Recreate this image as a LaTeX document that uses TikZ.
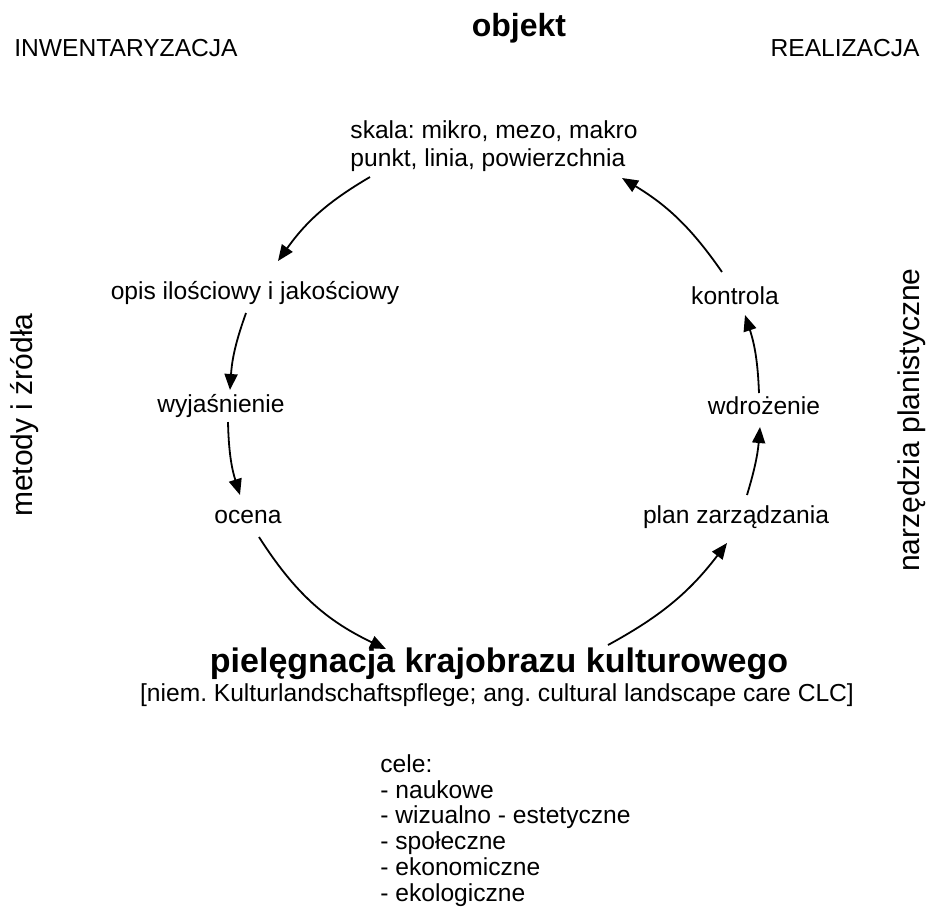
\documentclass[tikz,border=0pt]{standalone}
\usepackage{fontspec}
\setmainfont{Liberation Sans}
\frenchspacing
\usetikzlibrary{arrows.meta}
\usetikzlibrary{calc}

\tikzset{
	txt/.style={font=\fontsize{12.3}{14}\selectfont, inner sep=0pt},
	side/.style={font=\fontsize{15}{17}\selectfont, inner sep=0pt, rotate=90},
	title/.style={font=\fontsize{16}{19}\selectfont\bfseries, inner sep=0pt},
	arr/.style={-{Triangle[length=8pt, width=6.5pt]}, line width=0.9pt}
}

\begin{document}
\begin{tikzpicture}[x=0.5pt, y=-0.5pt]
\useasboundingbox (0, 0) rectangle (932, 918);

\node[title] (objekt) at (519, 28) {objekt};
\node[txt, anchor=west] (inw) at (14, 48) {INWENTARYZACJA};
\node[txt, anchor=east] (real) at (920, 48) {REALIZACJA};

\node[txt, align=left] (skala) at (494, 146) {skala: mikro, mezo, makro\\punkt, linia, powierzchnia};
\node[txt] (opis) at (255, 293) {opis ilościowy i jakościowy};
\node[txt] (wyj) at (221, 406) {wyjaśnienie};
\node[txt] (ocena) at (248, 517) {ocena};
\node[txt] (kontrola) at (735, 296) {kontrola};
\node[txt] (wdr) at (764, 406) {wdrożenie};
\node[txt] (plan) at (736, 517) {plan zarządzania};

\node[title, font=\fontsize{17}{20}\selectfont\bfseries] (piel) at (499, 664) {pielęgnacja krajobrazu kulturowego};
\node[txt] (niem) at (497, 695) {[niem. Kulturlandschaftspflege; ang. cultural landscape care CLC]};
\node[txt, anchor=north west, align=left, font=\fontsize{12.3}{12.9}\selectfont] (cele) at (380, 754)
	{cele:\\- naukowe\\- wizualno - estetyczne\\- społeczne\\- ekonomiczne\\- ekologiczne};

\node[side] (metody) at (25, 415) {metody i źródła};
\node[side] (narz) at (912, 420) {narzędzia planistyczne};

\draw[arr] ($(skala)+(-124, 31)$) to[bend right=12] ($(opis)+(23, -32)$);
\draw[arr] ($(opis)+(-9, 20)$) to[bend right=8] ($(wyj)+(9, -16)$);
\draw[arr] ($(wyj)+(7, 16)$) to[bend right=8] ($(ocena)+(-8, -22)$);
\draw[arr] ($(ocena)+(11, 20)$) to[bend right=16] ($(piel)+(-113, -15)$);
\draw[arr] ($(piel)+(109, -19)$) to[bend right=12] ($(plan)+(-9, 26)$);
\draw[arr] ($(plan)+(11, -22)$) to[bend right=6] ($(wdr)+(-4, 21)$);
\draw[arr] ($(wdr)+(-5, -13)$) to[bend right=8] ($(kontrola)+(10, 19)$);
\draw[arr] ($(kontrola)+(-13, -24)$) to[bend right=12] ($(skala)+(128, 32)$);
\end{tikzpicture}
\end{document}
